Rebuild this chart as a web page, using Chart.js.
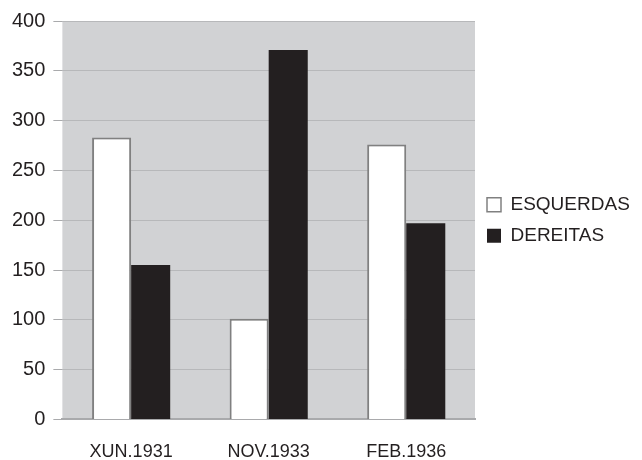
<!DOCTYPE html>
<html>
<head>
<meta charset="utf-8">
<script src="https://cdn.jsdelivr.net/npm/chart.js@4.4.1/dist/chart.umd.min.js"></script>
<style>
  html, body { margin: 0; padding: 0; background: #ffffff; }
  #wrap { width: 642px; height: 460px; }
</style>
</head>
<body>
<div id="wrap"><canvas id="c" width="642" height="460"></canvas></div>
<script>
const categories = ['XUN.1931', 'NOV.1933', 'FEB.1936'];
const seriesNames = ['ESQUERDAS', 'DEREITAS'];
const esquerdas = [283, 101, 276];
const dereitas = [155, 371, 197];
const yTicks = [0, 50, 100, 150, 200, 250, 300, 350, 400];

const TEXT = '#231f20';

const plotBg = {
  id: 'plotBg',
  beforeDraw(chart) {
    const a = chart.chartArea;
    const ctx = chart.ctx;
    ctx.save();
    ctx.fillStyle = '#d1d2d4';
    ctx.fillRect(a.left, a.top, a.right - a.left, a.bottom - a.top);
    ctx.restore();
  }
};

new Chart(document.getElementById('c'), {
  type: 'bar',
  data: {
    labels: categories,
    datasets: [
      {
        label: seriesNames[0],
        data: esquerdas,
        backgroundColor: '#ffffff',
        borderColor: '#808080',
        borderWidth: 2,
        borderSkipped: 'bottom',
        categoryPercentage: 0.568,
        barPercentage: 1.0
      },
      {
        label: seriesNames[1],
        data: dereitas,
        backgroundColor: '#231f20',
        borderColor: '#231f20',
        borderWidth: 0,
        categoryPercentage: 0.568,
        barPercentage: 1.0
      }
    ]
  },
  options: {
    responsive: false,
    animation: false,
    devicePixelRatio: 1,
    layout: { padding: { left: 4, right: 10, top: 21, bottom: -25 } },
    plugins: {
      tooltip: { enabled: false },
      legend: {
        position: 'right',
        align: 'center',
        fullSize: false,
        labels: {
          boxWidth: 14,
          boxHeight: 14,
          padding: 12,
          color: TEXT,
          font: { family: "'Liberation Sans', Arial, sans-serif", size: 19 },
          generateLabels(chart) {
            const items = Chart.defaults.plugins.legend.labels.generateLabels(chart);
            items.forEach(it => { if (it.lineWidth) it.lineWidth = 1.5; });
            return items;
          }
        }
      }
    },
    scales: {
      x: {
        grid: { display: false, drawTicks: false },
        border: { display: true, color: '#a9aaac', width: 2 },
        ticks: {
          color: TEXT,
          padding: 22,
          font: { family: "'Liberation Sans', Arial, sans-serif", size: 18 }
        }
      },
      y: {
        min: 0,
        max: 400,
        afterBuildTicks(axis) { axis.ticks = yTicks.map(v => ({ value: v })); },
        grid: {
          color: '#b7b8ba',
          lineWidth: 1,
          tickLength: 9,
          tickColor: '#a9aaac',
          drawTicks: true
        },
        border: { display: false },
        ticks: {
          color: TEXT,
          padding: 8,
          font: { family: "'Liberation Sans', Arial, sans-serif", size: 20 }
        }
      }
    }
  },
  plugins: [plotBg]
});
</script>
</body>
</html>
